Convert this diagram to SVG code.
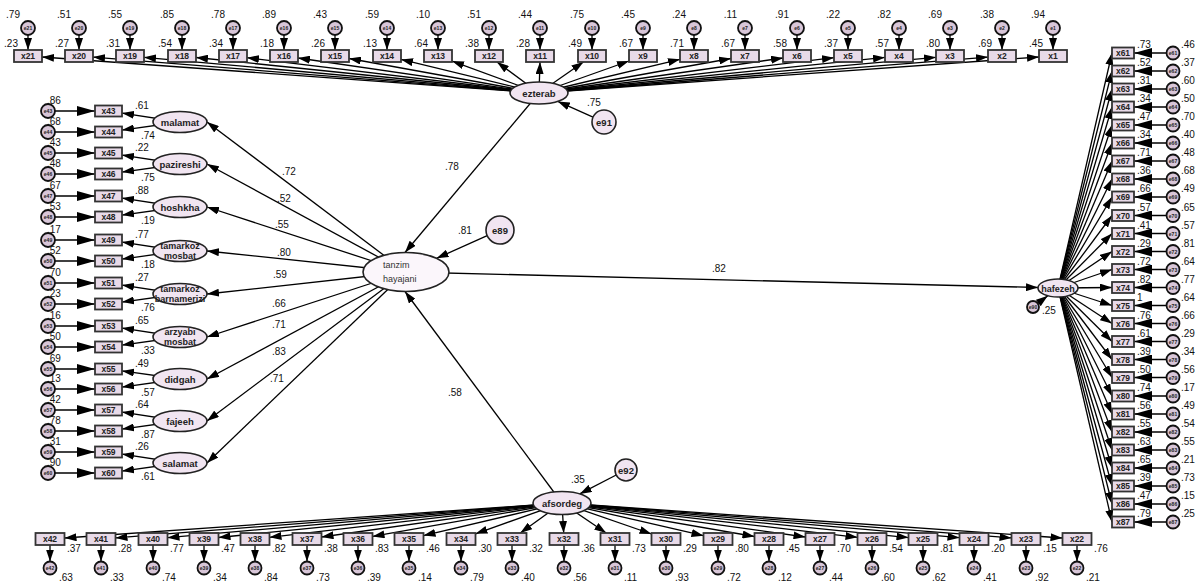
<svg xmlns="http://www.w3.org/2000/svg" width="1196" height="583" viewBox="0 0 1196 583">
<defs>
<marker id="a" viewBox="0 0 12 8" markerWidth="12" markerHeight="8" refX="12" refY="4" orient="auto" markerUnits="userSpaceOnUse"><path d="M0,0L12,4L0,8z" fill="#000"/></marker>
<marker id="b" viewBox="0 0 18 10" markerWidth="18" markerHeight="10" refX="18" refY="5" orient="auto" markerUnits="userSpaceOnUse"><path d="M0,0L18,5L0,10z" fill="#000"/></marker>
<style>
.c line{stroke:#000;stroke-width:1.3;marker-end:url(#a)}
.c line.b{marker-end:url(#b)}
.r{fill:#e8dae8;stroke:#333;stroke-width:1.8}
.l{fill:#f1e5f1;stroke:#222;stroke-width:1.6}
.e{fill:#d8c6d8;stroke:#111;stroke-width:1.8}
.t{font-family:'Liberation Sans',Arial,sans-serif;font-size:8.5px;font-weight:bold;fill:#222;text-anchor:middle}
.et{font-family:'Liberation Sans',Arial,sans-serif;font-size:5px;font-weight:bold;fill:#222;text-anchor:middle}
.lt{font-family:'Liberation Sans',Arial,sans-serif;font-size:9.5px;font-weight:bold;fill:#222;text-anchor:middle}
.lt2{font-family:'Liberation Sans',Arial,sans-serif;font-size:9px;fill:#333}
.n{font-family:'Liberation Sans',Arial,sans-serif;font-size:10px;fill:#111}
.ne{text-anchor:end}
</style>
</defs>
<rect width="1196" height="583" fill="#fff"/>

<g id="connectors" class="c">
<line x1="539" y1="93" x2="42" y2="57"/><line x1="539" y1="93" x2="93" y2="57.1"/><line x1="539" y1="93" x2="144" y2="57.3"/><line x1="539" y1="93" x2="196" y2="57.5"/><line x1="539" y1="93" x2="247" y2="57.7"/><line x1="539" y1="93" x2="298" y2="58"/><line x1="539" y1="93" x2="349" y2="58.5"/><line x1="539" y1="93" x2="401" y2="59.4"/><line x1="539" y1="93" x2="452" y2="61.1"/><line x1="539" y1="93" x2="497" y2="62"/><line x1="539" y1="93" x2="540" y2="62"/><line x1="539" y1="93" x2="583.4" y2="62"/><line x1="539" y1="93" x2="629" y2="61"/><line x1="539" y1="93" x2="680" y2="59.3"/><line x1="539" y1="93" x2="731" y2="58.5"/><line x1="539" y1="93" x2="783" y2="58"/><line x1="539" y1="93" x2="834" y2="57.7"/><line x1="539" y1="93" x2="885" y2="57.4"/><line x1="539" y1="93" x2="936" y2="57.3"/><line x1="539" y1="93" x2="988" y2="57.1"/><line x1="539" y1="93" x2="1039" y2="57"/>
<line x1="28" y1="35" x2="28" y2="50"/><line x1="79" y1="35" x2="79" y2="50"/><line x1="130" y1="35" x2="130" y2="50"/><line x1="182" y1="35" x2="182" y2="50"/><line x1="233" y1="35" x2="233" y2="50"/><line x1="284" y1="35" x2="284" y2="50"/><line x1="335" y1="35" x2="335" y2="50"/><line x1="387" y1="35" x2="387" y2="50"/><line x1="438" y1="35" x2="438" y2="50"/><line x1="489" y1="35" x2="489" y2="50"/><line x1="540" y1="35" x2="540" y2="50"/><line x1="592" y1="35" x2="592" y2="50"/><line x1="643" y1="35" x2="643" y2="50"/><line x1="694" y1="35" x2="694" y2="50"/><line x1="745" y1="35" x2="745" y2="50"/><line x1="797" y1="35" x2="797" y2="50"/><line x1="848" y1="35" x2="848" y2="50"/><line x1="899" y1="35" x2="899" y2="50"/><line x1="950" y1="35" x2="950" y2="50"/><line x1="1002" y1="35" x2="1002" y2="50"/><line x1="1053" y1="35" x2="1053" y2="50"/>
<line x1="562" y1="503" x2="64.5" y2="538"/><line x1="562" y1="503" x2="115.5" y2="537.9"/><line x1="562" y1="503" x2="167.5" y2="537.7"/><line x1="562" y1="503" x2="218.5" y2="537.5"/><line x1="562" y1="503" x2="269.5" y2="537.3"/><line x1="562" y1="503" x2="321.5" y2="537"/><line x1="562" y1="503" x2="372.5" y2="536.4"/><line x1="562" y1="503" x2="423.5" y2="535.6"/><line x1="562" y1="503" x2="475.5" y2="533.8"/><line x1="562" y1="503" x2="520.3" y2="533"/><line x1="562" y1="503" x2="563.7" y2="533"/><line x1="562" y1="503" x2="606.2" y2="533"/><line x1="562" y1="503" x2="651.5" y2="534"/><line x1="562" y1="503" x2="703.5" y2="535.7"/><line x1="562" y1="503" x2="754.5" y2="536.5"/><line x1="562" y1="503" x2="805.5" y2="537"/><line x1="562" y1="503" x2="857.5" y2="537.3"/><line x1="562" y1="503" x2="908.5" y2="537.6"/><line x1="562" y1="503" x2="959.5" y2="537.7"/><line x1="562" y1="503" x2="1011.5" y2="537.9"/><line x1="562" y1="503" x2="1062.5" y2="538"/>
<line x1="50" y1="545" x2="50" y2="561.5"/><line x1="101" y1="545" x2="101" y2="561.5"/><line x1="153" y1="545" x2="153" y2="561.5"/><line x1="204" y1="545" x2="204" y2="561.5"/><line x1="255" y1="545" x2="255" y2="561.5"/><line x1="307" y1="545" x2="307" y2="561.5"/><line x1="358" y1="545" x2="358" y2="561.5"/><line x1="409" y1="545" x2="409" y2="561.5"/><line x1="461" y1="545" x2="461" y2="561.5"/><line x1="512" y1="545" x2="512" y2="561.5"/><line x1="564" y1="545" x2="564" y2="561.5"/><line x1="615" y1="545" x2="615" y2="561.5"/><line x1="666" y1="545" x2="666" y2="561.5"/><line x1="718" y1="545" x2="718" y2="561.5"/><line x1="769" y1="545" x2="769" y2="561.5"/><line x1="820" y1="545" x2="820" y2="561.5"/><line x1="872" y1="545" x2="872" y2="561.5"/><line x1="923" y1="545" x2="923" y2="561.5"/><line x1="974" y1="545" x2="974" y2="561.5"/><line x1="1026" y1="545" x2="1026" y2="561.5"/><line x1="1077" y1="545" x2="1077" y2="561.5"/>
<line x1="1058" y1="288" x2="1112" y2="53"/><line x1="1058" y1="288" x2="1112" y2="71"/><line x1="1058" y1="288" x2="1112" y2="89"/><line x1="1058" y1="288" x2="1112" y2="107"/><line x1="1058" y1="288" x2="1112" y2="125"/><line x1="1058" y1="288" x2="1112" y2="143"/><line x1="1058" y1="288" x2="1112" y2="161"/><line x1="1058" y1="288" x2="1112" y2="179"/><line x1="1058" y1="288" x2="1112" y2="197"/><line x1="1058" y1="288" x2="1112" y2="215.5"/><line x1="1058" y1="288" x2="1112" y2="233.5"/><line x1="1058" y1="288" x2="1112" y2="251.5"/><line x1="1058" y1="288" x2="1112" y2="269.5"/><line x1="1058" y1="288" x2="1112" y2="287.5"/><line x1="1058" y1="288" x2="1112" y2="305.5"/><line x1="1058" y1="288" x2="1112" y2="323.5"/><line x1="1058" y1="288" x2="1112" y2="341.5"/><line x1="1058" y1="288" x2="1112" y2="359.5"/><line x1="1058" y1="288" x2="1112" y2="377.5"/><line x1="1058" y1="288" x2="1112" y2="396"/><line x1="1058" y1="288" x2="1112" y2="414"/><line x1="1058" y1="288" x2="1112" y2="432"/><line x1="1058" y1="288" x2="1112" y2="450"/><line x1="1058" y1="288" x2="1112" y2="468"/><line x1="1058" y1="288" x2="1112" y2="486"/><line x1="1058" y1="288" x2="1112" y2="504"/><line x1="1058" y1="288" x2="1112" y2="522"/>
<line class="b" x1="1166.5" y1="53" x2="1134" y2="53"/><line class="b" x1="1166.5" y1="71" x2="1134" y2="71"/><line class="b" x1="1166.5" y1="89" x2="1134" y2="89"/><line class="b" x1="1166.5" y1="107" x2="1134" y2="107"/><line class="b" x1="1166.5" y1="125" x2="1134" y2="125"/><line class="b" x1="1166.5" y1="143" x2="1134" y2="143"/><line class="b" x1="1166.5" y1="161" x2="1134" y2="161"/><line class="b" x1="1166.5" y1="179" x2="1134" y2="179"/><line class="b" x1="1166.5" y1="197" x2="1134" y2="197"/><line class="b" x1="1166.5" y1="215.5" x2="1134" y2="215.5"/><line class="b" x1="1166.5" y1="233.5" x2="1134" y2="233.5"/><line class="b" x1="1166.5" y1="251.5" x2="1134" y2="251.5"/><line class="b" x1="1166.5" y1="269.5" x2="1134" y2="269.5"/><line class="b" x1="1166.5" y1="287.5" x2="1134" y2="287.5"/><line class="b" x1="1166.5" y1="305.5" x2="1134" y2="305.5"/><line class="b" x1="1166.5" y1="323.5" x2="1134" y2="323.5"/><line class="b" x1="1166.5" y1="341.5" x2="1134" y2="341.5"/><line class="b" x1="1166.5" y1="359.5" x2="1134" y2="359.5"/><line class="b" x1="1166.5" y1="377.5" x2="1134" y2="377.5"/><line class="b" x1="1166.5" y1="396" x2="1134" y2="396"/><line class="b" x1="1166.5" y1="414" x2="1134" y2="414"/><line class="b" x1="1166.5" y1="432" x2="1134" y2="432"/><line class="b" x1="1166.5" y1="450" x2="1134" y2="450"/><line class="b" x1="1166.5" y1="468" x2="1134" y2="468"/><line class="b" x1="1166.5" y1="486" x2="1134" y2="486"/><line class="b" x1="1166.5" y1="504" x2="1134" y2="504"/><line class="b" x1="1166.5" y1="522" x2="1134" y2="522"/>
<line class="b" x1="55" y1="111" x2="95" y2="111"/><line class="b" x1="55" y1="132" x2="95" y2="132"/><line class="b" x1="55" y1="153" x2="95" y2="153"/><line class="b" x1="55" y1="174" x2="95" y2="174"/><line class="b" x1="55" y1="196" x2="95" y2="196"/><line class="b" x1="55" y1="217" x2="95" y2="217"/><line class="b" x1="55" y1="240" x2="95" y2="240"/><line class="b" x1="55" y1="261" x2="95" y2="261"/><line class="b" x1="55" y1="283" x2="95" y2="283"/><line class="b" x1="55" y1="304" x2="95" y2="304"/><line class="b" x1="55" y1="326" x2="95" y2="326"/><line class="b" x1="55" y1="347" x2="95" y2="347"/><line class="b" x1="55" y1="369" x2="95" y2="369"/><line class="b" x1="55" y1="389" x2="95" y2="389"/><line class="b" x1="55" y1="410" x2="95" y2="410"/><line class="b" x1="55" y1="431" x2="95" y2="431"/><line class="b" x1="55" y1="452" x2="95" y2="452"/><line class="b" x1="55" y1="473" x2="95" y2="473"/>
<line x1="180" y1="122" x2="122" y2="113.1"/><line x1="180" y1="122" x2="122" y2="130.1"/>
<line x1="180" y1="164" x2="122" y2="155.1"/><line x1="180" y1="164" x2="122" y2="172.1"/>
<line x1="180" y1="207" x2="122" y2="198.1"/><line x1="180" y1="207" x2="122" y2="215.1"/>
<line x1="180" y1="251" x2="122" y2="242.1"/><line x1="180" y1="251" x2="122" y2="259.1"/>
<line x1="180" y1="294" x2="122" y2="285.1"/><line x1="180" y1="294" x2="122" y2="302.1"/>
<line x1="180" y1="337" x2="122" y2="328.1"/><line x1="180" y1="337" x2="122" y2="345.1"/>
<line x1="180" y1="379" x2="122" y2="370.9"/><line x1="180" y1="379" x2="122" y2="387.1"/>
<line x1="180" y1="421" x2="122" y2="412.1"/><line x1="180" y1="421" x2="122" y2="429.1"/>
<line x1="180" y1="463" x2="122" y2="454.1"/><line x1="180" y1="463" x2="122" y2="471.1"/>
<line x1="406" y1="272" x2="207" y2="122"/><line x1="406" y1="272" x2="207" y2="164"/><line x1="406" y1="272" x2="207" y2="207"/><line x1="406" y1="272" x2="207" y2="251"/><line x1="406" y1="272" x2="207" y2="294"/><line x1="406" y1="272" x2="207" y2="337"/><line x1="406" y1="272" x2="207" y2="379"/><line x1="406" y1="272" x2="207" y2="421"/><line x1="406" y1="272" x2="207" y2="463"/>
<line x1="539" y1="93" x2="405" y2="252.5"/>
<line x1="562" y1="503" x2="405" y2="291.5"/>
<line x1="406" y1="272" x2="1038" y2="287.5"/>
<line x1="487.2" y1="235.7" x2="436.6" y2="258.3"/>
<line x1="593" y1="117.1" x2="557.8" y2="101.4"/>
<line x1="616.2" y1="475" x2="579.7" y2="493.9"/>
<line x1="1037.8" y1="303.4" x2="1047.8" y2="295.7"/>
</g>

<g id="x21"><rect class="r" x="14" y="50" width="28" height="12"/><text class="t" x="28" y="59">x21</text></g>
<g id="x20"><rect class="r" x="65" y="50" width="28" height="12"/><text class="t" x="79" y="59">x20</text></g>
<g id="x19"><rect class="r" x="116" y="50" width="28" height="12"/><text class="t" x="130" y="59">x19</text></g>
<g id="x18"><rect class="r" x="168" y="50" width="28" height="12"/><text class="t" x="182" y="59">x18</text></g>
<g id="x17"><rect class="r" x="219" y="50" width="28" height="12"/><text class="t" x="233" y="59">x17</text></g>
<g id="x16"><rect class="r" x="270" y="50" width="28" height="12"/><text class="t" x="284" y="59">x16</text></g>
<g id="x15"><rect class="r" x="321" y="50" width="28" height="12"/><text class="t" x="335" y="59">x15</text></g>
<g id="x14"><rect class="r" x="373" y="50" width="28" height="12"/><text class="t" x="387" y="59">x14</text></g>
<g id="x13"><rect class="r" x="424" y="50" width="28" height="12"/><text class="t" x="438" y="59">x13</text></g>
<g id="x12"><rect class="r" x="475" y="50" width="28" height="12"/><text class="t" x="489" y="59">x12</text></g>
<g id="x11"><rect class="r" x="526" y="50" width="28" height="12"/><text class="t" x="540" y="59">x11</text></g>
<g id="x10"><rect class="r" x="578" y="50" width="28" height="12"/><text class="t" x="592" y="59">x10</text></g>
<g id="x9"><rect class="r" x="629" y="50" width="28" height="12"/><text class="t" x="643" y="59">x9</text></g>
<g id="x8"><rect class="r" x="680" y="50" width="28" height="12"/><text class="t" x="694" y="59">x8</text></g>
<g id="x7"><rect class="r" x="731" y="50" width="28" height="12"/><text class="t" x="745" y="59">x7</text></g>
<g id="x6"><rect class="r" x="783" y="50" width="28" height="12"/><text class="t" x="797" y="59">x6</text></g>
<g id="x5"><rect class="r" x="834" y="50" width="28" height="12"/><text class="t" x="848" y="59">x5</text></g>
<g id="x4"><rect class="r" x="885" y="50" width="28" height="12"/><text class="t" x="899" y="59">x4</text></g>
<g id="x3"><rect class="r" x="936" y="50" width="28" height="12"/><text class="t" x="950" y="59">x3</text></g>
<g id="x2"><rect class="r" x="988" y="50" width="28" height="12"/><text class="t" x="1002" y="59">x2</text></g>
<g id="x1"><rect class="r" x="1039" y="50" width="28" height="12"/><text class="t" x="1053" y="59">x1</text></g>
<g id="e21"><circle class="e" cx="28" cy="28" r="7"/><text class="et" x="28" y="30">e21</text></g>
<g id="e20"><circle class="e" cx="79" cy="28" r="7"/><text class="et" x="79" y="30">e20</text></g>
<g id="e19"><circle class="e" cx="130" cy="28" r="7"/><text class="et" x="130" y="30">e19</text></g>
<g id="e18"><circle class="e" cx="182" cy="28" r="7"/><text class="et" x="182" y="30">e18</text></g>
<g id="e17"><circle class="e" cx="233" cy="28" r="7"/><text class="et" x="233" y="30">e17</text></g>
<g id="e16"><circle class="e" cx="284" cy="28" r="7"/><text class="et" x="284" y="30">e16</text></g>
<g id="e15"><circle class="e" cx="335" cy="28" r="7"/><text class="et" x="335" y="30">e15</text></g>
<g id="e14"><circle class="e" cx="387" cy="28" r="7"/><text class="et" x="387" y="30">e14</text></g>
<g id="e13"><circle class="e" cx="438" cy="28" r="7"/><text class="et" x="438" y="30">e13</text></g>
<g id="e12"><circle class="e" cx="489" cy="28" r="7"/><text class="et" x="489" y="30">e12</text></g>
<g id="e11"><circle class="e" cx="540" cy="28" r="7"/><text class="et" x="540" y="30">e11</text></g>
<g id="e10"><circle class="e" cx="592" cy="28" r="7"/><text class="et" x="592" y="30">e10</text></g>
<g id="e9"><circle class="e" cx="643" cy="28" r="7"/><text class="et" x="643" y="30">e9</text></g>
<g id="e8"><circle class="e" cx="694" cy="28" r="7"/><text class="et" x="694" y="30">e8</text></g>
<g id="e7"><circle class="e" cx="745" cy="28" r="7"/><text class="et" x="745" y="30">e7</text></g>
<g id="e6"><circle class="e" cx="797" cy="28" r="7"/><text class="et" x="797" y="30">e6</text></g>
<g id="e5"><circle class="e" cx="848" cy="28" r="7"/><text class="et" x="848" y="30">e5</text></g>
<g id="e4"><circle class="e" cx="899" cy="28" r="7"/><text class="et" x="899" y="30">e4</text></g>
<g id="e3"><circle class="e" cx="950" cy="28" r="7"/><text class="et" x="950" y="30">e3</text></g>
<g id="e2"><circle class="e" cx="1002" cy="28" r="7"/><text class="et" x="1002" y="30">e2</text></g>
<g id="e1"><circle class="e" cx="1053" cy="28" r="7"/><text class="et" x="1053" y="30">e1</text></g>

<g id="x42"><rect class="r" x="35.5" y="533" width="29" height="12"/><text class="t" x="50" y="542">x42</text></g>
<g id="x41"><rect class="r" x="86.5" y="533" width="29" height="12"/><text class="t" x="101" y="542">x41</text></g>
<g id="x40"><rect class="r" x="138.5" y="533" width="29" height="12"/><text class="t" x="153" y="542">x40</text></g>
<g id="x39"><rect class="r" x="189.5" y="533" width="29" height="12"/><text class="t" x="204" y="542">x39</text></g>
<g id="x38"><rect class="r" x="240.5" y="533" width="29" height="12"/><text class="t" x="255" y="542">x38</text></g>
<g id="x37"><rect class="r" x="292.5" y="533" width="29" height="12"/><text class="t" x="307" y="542">x37</text></g>
<g id="x36"><rect class="r" x="343.5" y="533" width="29" height="12"/><text class="t" x="358" y="542">x36</text></g>
<g id="x35"><rect class="r" x="394.5" y="533" width="29" height="12"/><text class="t" x="409" y="542">x35</text></g>
<g id="x34"><rect class="r" x="446.5" y="533" width="29" height="12"/><text class="t" x="461" y="542">x34</text></g>
<g id="x33"><rect class="r" x="497.5" y="533" width="29" height="12"/><text class="t" x="512" y="542">x33</text></g>
<g id="x32"><rect class="r" x="549.5" y="533" width="29" height="12"/><text class="t" x="564" y="542">x32</text></g>
<g id="x31"><rect class="r" x="600.5" y="533" width="29" height="12"/><text class="t" x="615" y="542">x31</text></g>
<g id="x30"><rect class="r" x="651.5" y="533" width="29" height="12"/><text class="t" x="666" y="542">x30</text></g>
<g id="x29"><rect class="r" x="703.5" y="533" width="29" height="12"/><text class="t" x="718" y="542">x29</text></g>
<g id="x28"><rect class="r" x="754.5" y="533" width="29" height="12"/><text class="t" x="769" y="542">x28</text></g>
<g id="x27"><rect class="r" x="805.5" y="533" width="29" height="12"/><text class="t" x="820" y="542">x27</text></g>
<g id="x26"><rect class="r" x="857.5" y="533" width="29" height="12"/><text class="t" x="872" y="542">x26</text></g>
<g id="x25"><rect class="r" x="908.5" y="533" width="29" height="12"/><text class="t" x="923" y="542">x25</text></g>
<g id="x24"><rect class="r" x="959.5" y="533" width="29" height="12"/><text class="t" x="974" y="542">x24</text></g>
<g id="x23"><rect class="r" x="1011.5" y="533" width="29" height="12"/><text class="t" x="1026" y="542">x23</text></g>
<g id="x22"><rect class="r" x="1062.5" y="533" width="29" height="12"/><text class="t" x="1077" y="542">x22</text></g>
<g id="e42"><circle class="e" cx="50" cy="568" r="6.5"/><text class="et" x="50" y="570">e42</text></g>
<g id="e41"><circle class="e" cx="101" cy="568" r="6.5"/><text class="et" x="101" y="570">e41</text></g>
<g id="e40"><circle class="e" cx="153" cy="568" r="6.5"/><text class="et" x="153" y="570">e40</text></g>
<g id="e39"><circle class="e" cx="204" cy="568" r="6.5"/><text class="et" x="204" y="570">e39</text></g>
<g id="e38"><circle class="e" cx="255" cy="568" r="6.5"/><text class="et" x="255" y="570">e38</text></g>
<g id="e37"><circle class="e" cx="307" cy="568" r="6.5"/><text class="et" x="307" y="570">e37</text></g>
<g id="e36"><circle class="e" cx="358" cy="568" r="6.5"/><text class="et" x="358" y="570">e36</text></g>
<g id="e35"><circle class="e" cx="409" cy="568" r="6.5"/><text class="et" x="409" y="570">e35</text></g>
<g id="e34"><circle class="e" cx="461" cy="568" r="6.5"/><text class="et" x="461" y="570">e34</text></g>
<g id="e33"><circle class="e" cx="512" cy="568" r="6.5"/><text class="et" x="512" y="570">e33</text></g>
<g id="e32"><circle class="e" cx="564" cy="568" r="6.5"/><text class="et" x="564" y="570">e32</text></g>
<g id="e31"><circle class="e" cx="615" cy="568" r="6.5"/><text class="et" x="615" y="570">e31</text></g>
<g id="e30"><circle class="e" cx="666" cy="568" r="6.5"/><text class="et" x="666" y="570">e30</text></g>
<g id="e29"><circle class="e" cx="718" cy="568" r="6.5"/><text class="et" x="718" y="570">e29</text></g>
<g id="e28"><circle class="e" cx="769" cy="568" r="6.5"/><text class="et" x="769" y="570">e28</text></g>
<g id="e27"><circle class="e" cx="820" cy="568" r="6.5"/><text class="et" x="820" y="570">e27</text></g>
<g id="e26"><circle class="e" cx="872" cy="568" r="6.5"/><text class="et" x="872" y="570">e26</text></g>
<g id="e25"><circle class="e" cx="923" cy="568" r="6.5"/><text class="et" x="923" y="570">e25</text></g>
<g id="e24"><circle class="e" cx="974" cy="568" r="6.5"/><text class="et" x="974" y="570">e24</text></g>
<g id="e23"><circle class="e" cx="1026" cy="568" r="6.5"/><text class="et" x="1026" y="570">e23</text></g>
<g id="e22"><circle class="e" cx="1077" cy="568" r="6.5"/><text class="et" x="1077" y="570">e22</text></g>

<g id="x61"><rect class="r" x="1112" y="47.5" width="22" height="11"/><text class="t" x="1123" y="56">x61</text></g>
<g id="x62"><rect class="r" x="1112" y="65.5" width="22" height="11"/><text class="t" x="1123" y="74">x62</text></g>
<g id="x63"><rect class="r" x="1112" y="83.5" width="22" height="11"/><text class="t" x="1123" y="92">x63</text></g>
<g id="x64"><rect class="r" x="1112" y="101.5" width="22" height="11"/><text class="t" x="1123" y="110">x64</text></g>
<g id="x65"><rect class="r" x="1112" y="119.5" width="22" height="11"/><text class="t" x="1123" y="128">x65</text></g>
<g id="x66"><rect class="r" x="1112" y="137.5" width="22" height="11"/><text class="t" x="1123" y="146">x66</text></g>
<g id="x67"><rect class="r" x="1112" y="155.5" width="22" height="11"/><text class="t" x="1123" y="164">x67</text></g>
<g id="x68"><rect class="r" x="1112" y="173.5" width="22" height="11"/><text class="t" x="1123" y="182">x68</text></g>
<g id="x69"><rect class="r" x="1112" y="191.5" width="22" height="11"/><text class="t" x="1123" y="200">x69</text></g>
<g id="x70"><rect class="r" x="1112" y="210" width="22" height="11"/><text class="t" x="1123" y="218.5">x70</text></g>
<g id="x71"><rect class="r" x="1112" y="228" width="22" height="11"/><text class="t" x="1123" y="236.5">x71</text></g>
<g id="x72"><rect class="r" x="1112" y="246" width="22" height="11"/><text class="t" x="1123" y="254.5">x72</text></g>
<g id="x73"><rect class="r" x="1112" y="264" width="22" height="11"/><text class="t" x="1123" y="272.5">x73</text></g>
<g id="x74"><rect class="r" x="1112" y="282" width="22" height="11"/><text class="t" x="1123" y="290.5">x74</text></g>
<g id="x75"><rect class="r" x="1112" y="300" width="22" height="11"/><text class="t" x="1123" y="308.5">x75</text></g>
<g id="x76"><rect class="r" x="1112" y="318" width="22" height="11"/><text class="t" x="1123" y="326.5">x76</text></g>
<g id="x77"><rect class="r" x="1112" y="336" width="22" height="11"/><text class="t" x="1123" y="344.5">x77</text></g>
<g id="x78"><rect class="r" x="1112" y="354" width="22" height="11"/><text class="t" x="1123" y="362.5">x78</text></g>
<g id="x79"><rect class="r" x="1112" y="372" width="22" height="11"/><text class="t" x="1123" y="380.5">x79</text></g>
<g id="x80"><rect class="r" x="1112" y="390.5" width="22" height="11"/><text class="t" x="1123" y="399">x80</text></g>
<g id="x81"><rect class="r" x="1112" y="408.5" width="22" height="11"/><text class="t" x="1123" y="417">x81</text></g>
<g id="x82"><rect class="r" x="1112" y="426.5" width="22" height="11"/><text class="t" x="1123" y="435">x82</text></g>
<g id="x83"><rect class="r" x="1112" y="444.5" width="22" height="11"/><text class="t" x="1123" y="453">x83</text></g>
<g id="x84"><rect class="r" x="1112" y="462.5" width="22" height="11"/><text class="t" x="1123" y="471">x84</text></g>
<g id="x85"><rect class="r" x="1112" y="480.5" width="22" height="11"/><text class="t" x="1123" y="489">x85</text></g>
<g id="x86"><rect class="r" x="1112" y="498.5" width="22" height="11"/><text class="t" x="1123" y="507">x86</text></g>
<g id="x87"><rect class="r" x="1112" y="516.5" width="22" height="11"/><text class="t" x="1123" y="525">x87</text></g>
<g id="e61"><circle class="e" cx="1173" cy="53" r="6.5"/><text class="et" x="1173" y="55">e61</text></g>
<g id="e62"><circle class="e" cx="1173" cy="71" r="6.5"/><text class="et" x="1173" y="73">e62</text></g>
<g id="e63"><circle class="e" cx="1173" cy="89" r="6.5"/><text class="et" x="1173" y="91">e63</text></g>
<g id="e64"><circle class="e" cx="1173" cy="107" r="6.5"/><text class="et" x="1173" y="109">e64</text></g>
<g id="e65"><circle class="e" cx="1173" cy="125" r="6.5"/><text class="et" x="1173" y="127">e65</text></g>
<g id="e66"><circle class="e" cx="1173" cy="143" r="6.5"/><text class="et" x="1173" y="145">e66</text></g>
<g id="e67"><circle class="e" cx="1173" cy="161" r="6.5"/><text class="et" x="1173" y="163">e67</text></g>
<g id="e68"><circle class="e" cx="1173" cy="179" r="6.5"/><text class="et" x="1173" y="181">e68</text></g>
<g id="e69"><circle class="e" cx="1173" cy="197" r="6.5"/><text class="et" x="1173" y="199">e69</text></g>
<g id="e70"><circle class="e" cx="1173" cy="215.5" r="6.5"/><text class="et" x="1173" y="217.5">e70</text></g>
<g id="e71"><circle class="e" cx="1173" cy="233.5" r="6.5"/><text class="et" x="1173" y="235.5">e71</text></g>
<g id="e72"><circle class="e" cx="1173" cy="251.5" r="6.5"/><text class="et" x="1173" y="253.5">e72</text></g>
<g id="e73"><circle class="e" cx="1173" cy="269.5" r="6.5"/><text class="et" x="1173" y="271.5">e73</text></g>
<g id="e74"><circle class="e" cx="1173" cy="287.5" r="6.5"/><text class="et" x="1173" y="289.5">e74</text></g>
<g id="e75"><circle class="e" cx="1173" cy="305.5" r="6.5"/><text class="et" x="1173" y="307.5">e75</text></g>
<g id="e76"><circle class="e" cx="1173" cy="323.5" r="6.5"/><text class="et" x="1173" y="325.5">e76</text></g>
<g id="e77"><circle class="e" cx="1173" cy="341.5" r="6.5"/><text class="et" x="1173" y="343.5">e77</text></g>
<g id="e78"><circle class="e" cx="1173" cy="359.5" r="6.5"/><text class="et" x="1173" y="361.5">e78</text></g>
<g id="e79"><circle class="e" cx="1173" cy="377.5" r="6.5"/><text class="et" x="1173" y="379.5">e79</text></g>
<g id="e80"><circle class="e" cx="1173" cy="396" r="6.5"/><text class="et" x="1173" y="398">e80</text></g>
<g id="e81"><circle class="e" cx="1173" cy="414" r="6.5"/><text class="et" x="1173" y="416">e81</text></g>
<g id="e82"><circle class="e" cx="1173" cy="432" r="6.5"/><text class="et" x="1173" y="434">e82</text></g>
<g id="e83"><circle class="e" cx="1173" cy="450" r="6.5"/><text class="et" x="1173" y="452">e83</text></g>
<g id="e84"><circle class="e" cx="1173" cy="468" r="6.5"/><text class="et" x="1173" y="470">e84</text></g>
<g id="e85"><circle class="e" cx="1173" cy="486" r="6.5"/><text class="et" x="1173" y="488">e85</text></g>
<g id="e86"><circle class="e" cx="1173" cy="504" r="6.5"/><text class="et" x="1173" y="506">e86</text></g>
<g id="e87"><circle class="e" cx="1173" cy="522" r="6.5"/><text class="et" x="1173" y="524">e87</text></g>

<g id="x43"><rect class="r" x="95" y="105.5" width="27" height="11"/><text class="t" x="108.5" y="114">x43</text></g>
<g id="x44"><rect class="r" x="95" y="126.5" width="27" height="11"/><text class="t" x="108.5" y="135">x44</text></g>
<g id="x45"><rect class="r" x="95" y="147.5" width="27" height="11"/><text class="t" x="108.5" y="156">x45</text></g>
<g id="x46"><rect class="r" x="95" y="168.5" width="27" height="11"/><text class="t" x="108.5" y="177">x46</text></g>
<g id="x47"><rect class="r" x="95" y="190.5" width="27" height="11"/><text class="t" x="108.5" y="199">x47</text></g>
<g id="x48"><rect class="r" x="95" y="211.5" width="27" height="11"/><text class="t" x="108.5" y="220">x48</text></g>
<g id="x49"><rect class="r" x="95" y="234.5" width="27" height="11"/><text class="t" x="108.5" y="243">x49</text></g>
<g id="x50"><rect class="r" x="95" y="255.5" width="27" height="11"/><text class="t" x="108.5" y="264">x50</text></g>
<g id="x51"><rect class="r" x="95" y="277.5" width="27" height="11"/><text class="t" x="108.5" y="286">x51</text></g>
<g id="x52"><rect class="r" x="95" y="298.5" width="27" height="11"/><text class="t" x="108.5" y="307">x52</text></g>
<g id="x53"><rect class="r" x="95" y="320.5" width="27" height="11"/><text class="t" x="108.5" y="329">x53</text></g>
<g id="x54"><rect class="r" x="95" y="341.5" width="27" height="11"/><text class="t" x="108.5" y="350">x54</text></g>
<g id="x55"><rect class="r" x="95" y="363.5" width="27" height="11"/><text class="t" x="108.5" y="372">x55</text></g>
<g id="x56"><rect class="r" x="95" y="383.5" width="27" height="11"/><text class="t" x="108.5" y="392">x56</text></g>
<g id="x57"><rect class="r" x="95" y="404.5" width="27" height="11"/><text class="t" x="108.5" y="413">x57</text></g>
<g id="x58"><rect class="r" x="95" y="425.5" width="27" height="11"/><text class="t" x="108.5" y="434">x58</text></g>
<g id="x59"><rect class="r" x="95" y="446.5" width="27" height="11"/><text class="t" x="108.5" y="455">x59</text></g>
<g id="x60"><rect class="r" x="95" y="467.5" width="27" height="11"/><text class="t" x="108.5" y="476">x60</text></g>
<g id="e43"><circle class="e" cx="48" cy="111" r="7"/><text class="et" x="48" y="113">e43</text></g>
<g id="e44"><circle class="e" cx="48" cy="132" r="7"/><text class="et" x="48" y="134">e44</text></g>
<g id="e45"><circle class="e" cx="48" cy="153" r="7"/><text class="et" x="48" y="155">e45</text></g>
<g id="e46"><circle class="e" cx="48" cy="174" r="7"/><text class="et" x="48" y="176">e46</text></g>
<g id="e47"><circle class="e" cx="48" cy="196" r="7"/><text class="et" x="48" y="198">e47</text></g>
<g id="e48"><circle class="e" cx="48" cy="217" r="7"/><text class="et" x="48" y="219">e48</text></g>
<g id="e49"><circle class="e" cx="48" cy="240" r="7"/><text class="et" x="48" y="242">e49</text></g>
<g id="e50"><circle class="e" cx="48" cy="261" r="7"/><text class="et" x="48" y="263">e50</text></g>
<g id="e51"><circle class="e" cx="48" cy="283" r="7"/><text class="et" x="48" y="285">e51</text></g>
<g id="e52"><circle class="e" cx="48" cy="304" r="7"/><text class="et" x="48" y="306">e52</text></g>
<g id="e53"><circle class="e" cx="48" cy="326" r="7"/><text class="et" x="48" y="328">e53</text></g>
<g id="e54"><circle class="e" cx="48" cy="347" r="7"/><text class="et" x="48" y="349">e54</text></g>
<g id="e55"><circle class="e" cx="48" cy="369" r="7"/><text class="et" x="48" y="371">e55</text></g>
<g id="e56"><circle class="e" cx="48" cy="389" r="7"/><text class="et" x="48" y="391">e56</text></g>
<g id="e57"><circle class="e" cx="48" cy="410" r="7"/><text class="et" x="48" y="412">e57</text></g>
<g id="e58"><circle class="e" cx="48" cy="431" r="7"/><text class="et" x="48" y="433">e58</text></g>
<g id="e59"><circle class="e" cx="48" cy="452" r="7"/><text class="et" x="48" y="454">e59</text></g>
<g id="e60"><circle class="e" cx="48" cy="473" r="7"/><text class="et" x="48" y="475">e60</text></g>

<g id="malamat"><ellipse class="l" cx="180" cy="122" rx="27" ry="10.5"/><text class="lt" x="180" y="125.5">malamat</text></g>
<g id="pazireshi"><ellipse class="l" cx="180" cy="164" rx="27" ry="10.5"/><text class="lt" x="180" y="167.5">pazireshi</text></g>
<g id="khoshkhahi"><ellipse class="l" cx="180" cy="207" rx="27" ry="10.5"/><text class="lt" x="180" y="210.5">hoshkha</text></g>
<g id="tamarkoz-mosbat"><ellipse class="l" cx="180" cy="251" rx="27" ry="10.5"/><text class="lt" x="180" y="249" style="font-size:9px">tamarkoz</text><text class="lt" x="180" y="259" style="font-size:9px">mosbat</text></g>
<g id="tamarkoz-barnamerizi"><ellipse class="l" cx="180" cy="294" rx="27" ry="10.5"/><text class="lt" x="180" y="292" style="font-size:9px">tamarkoz</text><text class="lt" x="180" y="302" style="font-size:9px">barnamerizi</text></g>
<g id="arzyabi-mosbat"><ellipse class="l" cx="180" cy="337" rx="27" ry="10.5"/><text class="lt" x="180" y="335" style="font-size:9px">arzyabi</text><text class="lt" x="180" y="345" style="font-size:9px">mosbat</text></g>
<g id="didgah"><ellipse class="l" cx="180" cy="379" rx="27" ry="10.5"/><text class="lt" x="180" y="382.5">didgah</text></g>
<g id="fajeeh"><ellipse class="l" cx="180" cy="421" rx="27" ry="10.5"/><text class="lt" x="180" y="424.5">fajeeh</text></g>
<g id="salamat"><ellipse class="l" cx="180" cy="463" rx="27" ry="10.5"/><text class="lt" x="180" y="466.5">salamat</text></g>

<g id="tanzim-hayajani"><ellipse class="l" cx="406" cy="272" rx="43" ry="19.5" style="fill:#fbf6fb"/><text class="lt2" x="383" y="268">tanzim</text><text class="lt2" x="383" y="282">hayajani</text></g>
<g id="ezterab"><ellipse class="l" cx="539" cy="93" rx="29" ry="11"/><text class="lt" x="539" y="96.5">ezterab</text></g>
<g id="afsordegi"><ellipse class="l" cx="562" cy="503" rx="29" ry="11.5"/><text class="lt" x="562" y="506.5">afsordeg</text></g>
<g id="hafezeh"><ellipse class="l" cx="1058" cy="288" rx="20" ry="9"/><text class="lt" x="1058" y="291.5" style="font-size:9px">hafezeh</text></g>
<g id="e91"><circle class="l" cx="604" cy="122" r="12"/><text class="lt" x="604" y="125.5">e91</text></g>
<g id="e89"><circle class="l" cx="500" cy="230" r="14"/><text class="lt" x="500" y="233.5">e89</text></g>
<g id="e92"><circle class="l" cx="626" cy="470" r="11"/><text class="lt" x="626" y="473.5">e92</text></g>
<g id="e90"><circle class="e" cx="1033" cy="307" r="6"/><text class="et" x="1033" y="309">e90</text></g>

<g id="labels" class="n">
<text class="ne" x="20" y="18">.79</text><text class="ne" x="18" y="47">.23</text>
<text class="ne" x="71" y="18">.51</text><text class="ne" x="69" y="47">.27</text>
<text class="ne" x="122" y="18">.55</text><text class="ne" x="120" y="47">.31</text>
<text class="ne" x="174" y="18">.85</text><text class="ne" x="172" y="47">.54</text>
<text class="ne" x="225" y="18">.78</text><text class="ne" x="223" y="47">.34</text>
<text class="ne" x="276" y="18">.89</text><text class="ne" x="274" y="47">.18</text>
<text class="ne" x="327" y="18">.43</text><text class="ne" x="325" y="47">.26</text>
<text class="ne" x="379" y="18">.59</text><text class="ne" x="377" y="47">.13</text>
<text class="ne" x="430" y="18">.10</text><text class="ne" x="428" y="47">.64</text>
<text class="ne" x="481" y="18">.51</text><text class="ne" x="479" y="47">.38</text>
<text class="ne" x="532" y="18">.44</text><text class="ne" x="530" y="47">.28</text>
<text class="ne" x="584" y="18">.75</text><text class="ne" x="582" y="47">.49</text>
<text class="ne" x="635" y="18">.45</text><text class="ne" x="633" y="47">.67</text>
<text class="ne" x="686" y="18">.24</text><text class="ne" x="684" y="47">.71</text>
<text class="ne" x="737" y="18">.11</text><text class="ne" x="735" y="47">.67</text>
<text class="ne" x="789" y="18">.91</text><text class="ne" x="787" y="47">.58</text>
<text class="ne" x="840" y="18">.22</text><text class="ne" x="838" y="47">.37</text>
<text class="ne" x="891" y="18">.82</text><text class="ne" x="889" y="47">.57</text>
<text class="ne" x="942" y="18">.69</text><text class="ne" x="940" y="47">.80</text>
<text class="ne" x="994" y="18">.38</text><text class="ne" x="992" y="47">.69</text>
<text class="ne" x="1045" y="18">.94</text><text class="ne" x="1043" y="47">.45</text>
<text x="67" y="552">.37</text><text x="59" y="581">.63</text>
<text x="118" y="552">.28</text><text x="110" y="581">.33</text>
<text x="170" y="552">.77</text><text x="162" y="581">.74</text>
<text x="221" y="552">.47</text><text x="213" y="581">.34</text>
<text x="272" y="552">.82</text><text x="264" y="581">.84</text>
<text x="324" y="552">.38</text><text x="316" y="581">.73</text>
<text x="375" y="552">.83</text><text x="367" y="581">.39</text>
<text x="426" y="552">.46</text><text x="418" y="581">.14</text>
<text x="478" y="552">.30</text><text x="470" y="581">.79</text>
<text x="529" y="552">.32</text><text x="521" y="581">.40</text>
<text x="581" y="552">.36</text><text x="573" y="581">.56</text>
<text x="632" y="552">.73</text><text x="624" y="581">.11</text>
<text x="683" y="552">.29</text><text x="675" y="581">.93</text>
<text x="735" y="552">.80</text><text x="727" y="581">.72</text>
<text x="786" y="552">.45</text><text x="778" y="581">.12</text>
<text x="837" y="552">.70</text><text x="829" y="581">.44</text>
<text x="889" y="552">.54</text><text x="881" y="581">.60</text>
<text x="940" y="552">.81</text><text x="932" y="581">.62</text>
<text x="991" y="552">.20</text><text x="983" y="581">.41</text>
<text x="1043" y="552">.15</text><text x="1035" y="581">.92</text>
<text x="1094" y="552">.76</text><text x="1086" y="581">.21</text>
<text x="1137" y="48">.73</text><text x="1181" y="48">.46</text>
<text x="1137" y="66">.52</text><text x="1181" y="66">.37</text>
<text x="1137" y="84">.31</text><text x="1181" y="84">.60</text>
<text x="1137" y="102">.34</text><text x="1181" y="102">.50</text>
<text x="1137" y="120">.47</text><text x="1181" y="120">.70</text>
<text x="1137" y="138">.34</text><text x="1181" y="138">.40</text>
<text x="1137" y="156">.71</text><text x="1181" y="156">.48</text>
<text x="1137" y="174">.36</text><text x="1181" y="174">.68</text>
<text x="1137" y="192">.66</text><text x="1181" y="192">.49</text>
<text x="1137" y="210.5">.57</text><text x="1181" y="210.5">.65</text>
<text x="1137" y="228.5">.41</text><text x="1181" y="228.5">.57</text>
<text x="1137" y="246.5">.29</text><text x="1181" y="246.5">.81</text>
<text x="1137" y="264.5">.72</text><text x="1181" y="264.5">.64</text>
<text x="1137" y="282.5">.82</text><text x="1181" y="282.5">.77</text>
<text x="1137" y="300.5">1</text><text x="1181" y="300.5">.64</text>
<text x="1137" y="318.5">.76</text><text x="1181" y="318.5">.66</text>
<text x="1137" y="336.5">.61</text><text x="1181" y="336.5">.29</text>
<text x="1137" y="354.5">.39</text><text x="1181" y="354.5">.34</text>
<text x="1137" y="372.5">.50</text><text x="1181" y="372.5">.56</text>
<text x="1137" y="391">.74</text><text x="1181" y="391">.17</text>
<text x="1137" y="409">.56</text><text x="1181" y="409">.49</text>
<text x="1137" y="427">.55</text><text x="1181" y="427">.54</text>
<text x="1137" y="445">.63</text><text x="1181" y="445">.55</text>
<text x="1137" y="463">.65</text><text x="1181" y="463">.21</text>
<text x="1137" y="481">.39</text><text x="1181" y="481">.73</text>
<text x="1137" y="499">.47</text><text x="1181" y="499">.15</text>
<text x="1137" y="517">.79</text><text x="1181" y="517">.25</text>
<text x="47" y="104">.86</text><text x="47" y="125">.68</text>
<text x="47" y="146">.43</text><text x="47" y="167">.48</text>
<text x="47" y="189">.67</text><text x="47" y="210">.53</text>
<text x="47" y="233">.17</text><text x="47" y="254">.52</text>
<text x="47" y="276">.70</text><text x="47" y="297">.23</text>
<text x="47" y="319">.16</text><text x="47" y="340">.50</text>
<text x="47" y="362">.69</text><text x="47" y="382">.13</text>
<text x="47" y="403">.42</text><text x="47" y="424">.78</text>
<text x="47" y="445">.31</text><text x="47" y="466">.90</text>
<text x="135" y="109">.61</text><text x="141" y="139">.74</text>
<text x="135" y="151">.22</text><text x="141" y="181">.75</text>
<text x="135" y="194">.88</text><text x="141" y="224">.19</text>
<text x="135" y="238">.77</text><text x="141" y="268">.18</text>
<text x="135" y="281">.27</text><text x="141" y="311">.76</text>
<text x="135" y="324">.65</text><text x="141" y="354">.33</text>
<text x="135" y="367">.49</text><text x="141" y="396">.57</text>
<text x="135" y="408">.64</text><text x="141" y="438">.87</text>
<text x="135" y="450">.26</text><text x="141" y="480">.61</text>
<text x="282" y="175">.72</text>
<text x="277" y="202">.52</text>
<text x="275" y="228">.55</text>
<text x="277" y="256">.80</text>
<text x="273" y="278">.59</text>
<text x="272" y="307">.66</text>
<text x="272" y="328">.71</text>
<text x="272" y="355">.83</text>
<text x="270" y="382">.71</text>
<text x="445" y="170">.78</text>
<text x="587" y="106">.75</text>
<text x="458" y="234">.81</text>
<text x="712" y="272">.82</text>
<text x="448" y="396">.58</text>
<text x="571" y="483">.35</text>
<text x="1042" y="314">.25</text>
</g>
</svg>
